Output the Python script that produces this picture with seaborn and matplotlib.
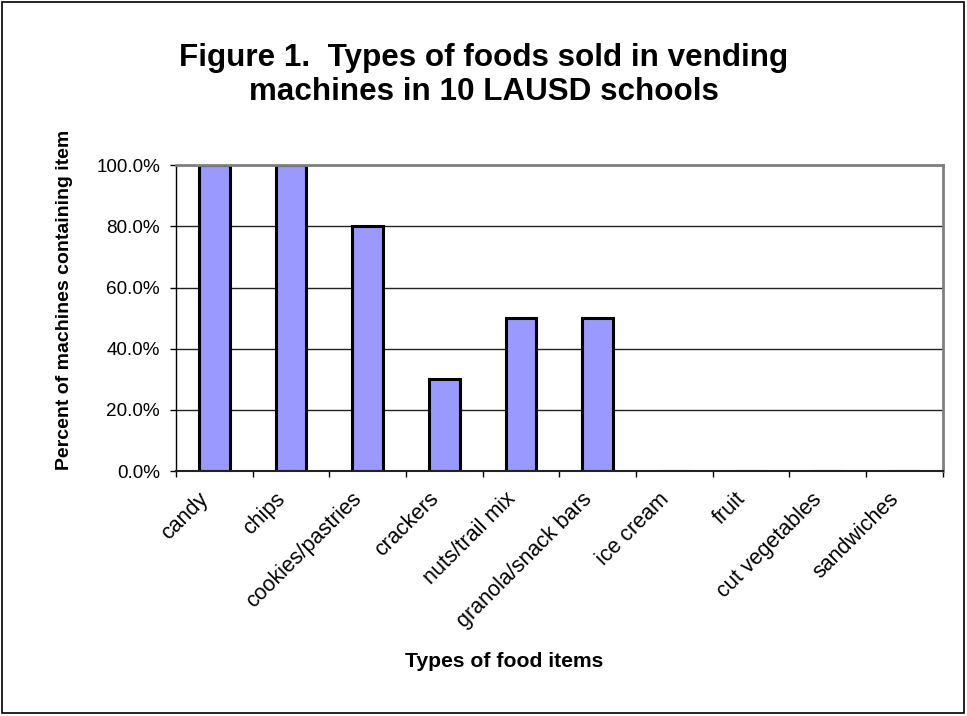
import matplotlib
matplotlib.use("Agg")
import matplotlib.pyplot as plt
import matplotlib.transforms as mtransforms
import seaborn as sns
import pandas as pd
from matplotlib.ticker import FuncFormatter, FixedLocator
from matplotlib.patches import Rectangle

categories = ["candy", "chips", "cookies/pastries", "crackers", "nuts/trail mix",
              "granola/snack bars", "ice cream", "fruit", "cut vegetables", "sandwiches"]
percent = [1.0, 1.0, 0.8, 0.3, 0.5, 0.5, 0.0, 0.0, 0.0, 0.0]
yticks = [0.0, 0.2, 0.4, 0.6, 0.8, 1.0]

sns.set_theme(style="white")
plt.rcParams['font.family'] = ['Liberation Sans', 'DejaVu Sans']
plt.rcParams['text.color'] = 'black'
plt.rcParams['axes.labelcolor'] = 'black'
plt.rcParams['xtick.color'] = 'black'
plt.rcParams['ytick.color'] = 'black'

df = pd.DataFrame({"item": categories, "pct": percent})

fig = plt.figure(figsize=(9.67, 7.16), dpi=100)
fig.patch.set_facecolor("white")
fig.patches.append(Rectangle((0.002, 0.004), 0.995, 0.993, transform=fig.transFigure,
                             fill=False, edgecolor="black", linewidth=1.2))

ax = fig.add_axes([0.182, 0.342, 0.793, 0.4274])
sns.barplot(data=df, x="item", y="pct", ax=ax, color="#9999FF", saturation=1,
            width=0.4, edgecolor="black", linewidth=2.2)

ax.set_xlim(-0.5, 9.5)
ax.set_ylim(0, 1.0)
ax.set_yticks(yticks)
ax.yaxis.set_major_formatter(FuncFormatter(lambda v, p: f"{v*100:.1f}%"))
ax.yaxis.grid(True, color="#222222", linewidth=1.0)
ax.set_axisbelow(True)

ax.set_xticks(range(len(categories)))
ax.set_xticklabels(categories, rotation=45, ha="right", va="center",
                   rotation_mode="anchor", fontsize=15.5)
ax.tick_params(axis="x", which="major", length=0, pad=18)
offset = mtransforms.ScaledTranslation(-9 / 100, 0, fig.dpi_scale_trans)
for lab in ax.get_xticklabels():
    lab.set_transform(lab.get_transform() + offset)
ax.xaxis.set_minor_locator(FixedLocator([i - 0.5 for i in range(len(categories) + 1)]))
ax.tick_params(axis="x", which="minor", length=4.5, width=1, color="black", direction="out", bottom=True)
ax.tick_params(axis="y", length=4.5, width=1, color="black", direction="out", left=True,
               labelsize=13.6, pad=7)

for s in ["top", "right"]:
    ax.spines[s].set_color("#808080")
    ax.spines[s].set_linewidth(2)
ax.spines["left"].set_color("black")
ax.spines["left"].set_linewidth(1)
ax.spines["bottom"].set_color("#222222")
ax.spines["bottom"].set_linewidth(1.5)

ax.set_xlabel("Types of food items", fontsize=15.2, fontweight="bold")
ax.xaxis.set_label_coords(0.428, -0.59)
ax.set_ylabel("Percent of machines containing item", fontsize=14, fontweight="bold")
ax.yaxis.set_label_coords(-0.134, 0.56)

fig.text(0.5, 0.895, "Figure 1.  Types of foods sold in vending\nmachines in 10 LAUSD schools",
         ha="center", va="center", fontsize=22.6, fontweight="bold", linespacing=1.2)

fig.savefig("out.png", dpi=100)
